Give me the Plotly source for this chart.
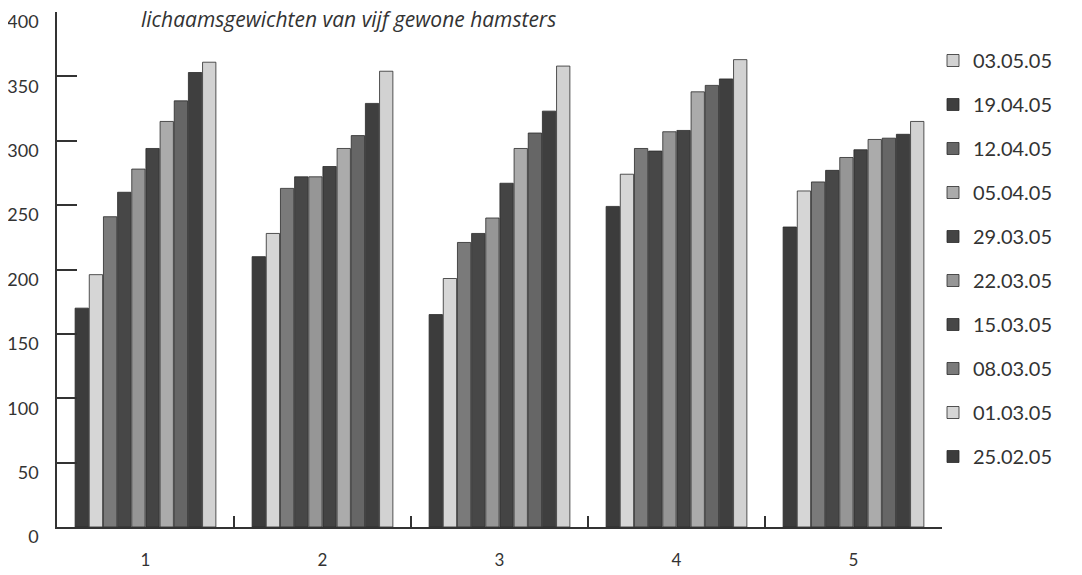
import plotly.graph_objects as go

hamsters = ["1", "2", "3", "4", "5"]
dates = ["25.02.05", "01.03.05", "08.03.05", "15.03.05", "22.03.05",
         "29.03.05", "05.04.05", "12.04.05", "19.04.05", "03.05.05"]

# weights per date (rows) for hamsters 1..5 (columns)
w_25_02 = [170, 210, 165, 249, 233]
w_01_03 = [196, 228, 193, 274, 261]
w_08_03 = [241, 263, 221, 294, 268]
w_15_03 = [260, 272, 228, 292, 277]
w_22_03 = [278, 272, 240, 307, 287]
w_29_03 = [294, 280, 267, 308, 293]
w_05_04 = [315, 294, 294, 338, 301]
w_12_04 = [331, 304, 306, 343, 302]
w_19_04 = [353, 329, 323, 348, 305]
w_03_05 = [361, 354, 358, 363, 315]
series = [w_25_02, w_01_03, w_08_03, w_15_03, w_22_03,
          w_29_03, w_05_04, w_12_04, w_19_04, w_03_05]

colors = ["#3c3c3c", "#d6d6d6", "#7a7a7a", "#474747", "#969696",
          "#444444", "#ababab", "#666666", "#3f3f3f", "#d2d2d2"]

yticks = [0, 50, 100, 150, 200, 250, 300, 350, 400]

FONT = "Lato"
TXT = "#333333"
W, H = 1074, 567  # page body has an 8px margin

fig = go.Figure()
n = len(dates)
for i, (d, vals, c) in enumerate(zip(dates, series, colors)):
    fig.add_trace(go.Bar(
        x=hamsters, y=vals, name=d, legendgroup=d, legendrank=100 + (n - i),
        marker=dict(color=c, line=dict(color="#2a2a2a", width=0.8)),
    ))

fig.update_layout(
    width=W, height=H,
    margin=dict(l=49, r=140, t=4, b=48, autoexpand=False),
    paper_bgcolor="white", plot_bgcolor="white",
    barmode="group", bargap=0.2, bargroupgap=0.06,
    font=dict(family=FONT, color=TXT, size=17),
    title=dict(
        text="lichaamsgewichten van vijf gewone hamsters",
        xref="container", yref="container",
        x=133 / W, xanchor="left",
        y=1 - 4 / H, yanchor="top", pad=dict(t=0, b=0, l=0, r=0),
        font=dict(family="Open Sans", size=21, color=TXT, style="italic"),
    ),
    legend=dict(
        traceorder="grouped", tracegroupgap=15,
        xref="container", yref="container",
        x=925 / W, xanchor="left",
        y=1 - 33 / H, yanchor="top",
        maxheight=550,
        font=dict(family=FONT, size=20, color=TXT),
        bgcolor="rgba(0,0,0,0)",
    ),
    xaxis=dict(
        type="category", tickson="boundaries",
        ticks="inside", ticklen=11, tickwidth=1.5, tickcolor="#333",
        showline=True, linecolor="#333", linewidth=1.5,
        showgrid=False, ticklabelstandoff=17, automargin=False,
        tickfont=dict(family=FONT, size=17, color=TXT),
    ),
    yaxis=dict(
        range=[0, 400], tickvals=yticks,
        ticks="inside", ticklen=20, tickwidth=1.5, tickcolor="#333",
        showline=True, linecolor="#333", linewidth=1.5,
        showgrid=False, zeroline=False, automargin=False,
        ticklabelshift=10, ticklabelstandoff=13,
        tickfont=dict(family=FONT, size=18, color=TXT),
    ),
)

fig.write_html("out.html")
